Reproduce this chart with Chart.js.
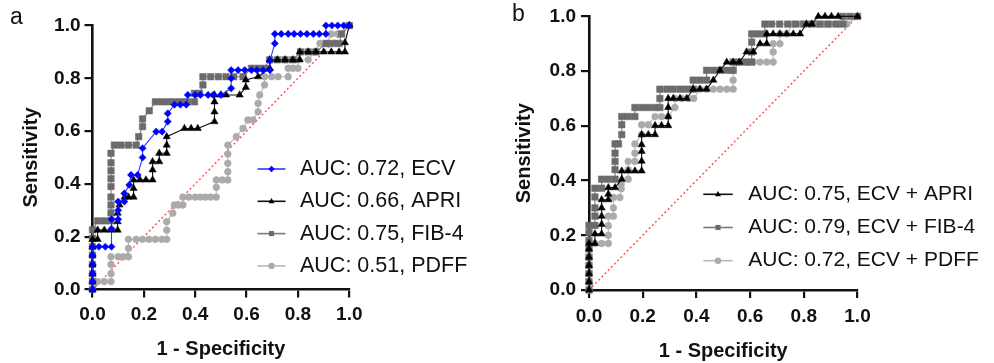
<!DOCTYPE html>
<html>
<head>
<meta charset="utf-8">
<script src="https://cdn.jsdelivr.net/npm/chart.js@4.4.0/dist/chart.umd.min.js"></script>
<style>
  body { margin: 0; background: #fff; width: 994px; height: 363px; overflow: hidden; position: relative; font-family: 'Liberation Sans', Arial, sans-serif; }
  .wrap { position: absolute; top: 0; width: 497px; height: 363px; }
  .tag { position: absolute; font-size: 23px; color: #111; line-height: 1.15; }
</style>
</head>
<body>
<div class="wrap" style="left:0"><canvas id="chartA" width="497" height="363"></canvas></div>
<div class="wrap" style="left:497px"><canvas id="chartB" width="497" height="363"></canvas></div>
<div class="tag" style="left:10px;top:3px">a</div>
<div class="tag" style="left:512px;top:0px">b</div>

<script>
// ---- data: [1 - specificity, sensitivity] ----
const axisTicks = [0, 0.2, 0.4, 0.6, 0.8, 1.0];
const diagonal = [[0, 0], [1, 1]];

// panel a
const aLabels = ['AUC: 0.72, ECV', 'AUC: 0.66, APRI', 'AUC: 0.75, FIB-4', 'AUC: 0.51, PDFF'];
const aEcv = [[0,0],[0,.03],[0,.06],[0,.095],[0,.13],[0,.162],[.025,.162],[.05,.162],[.074,.162],[.074,.23],[.074,.266],
  [.1,.266],[.1,.30],[.1,.333],[.124,.333],[.124,.364],[.143,.396],[.15,.434],[.176,.434],[.195,.50],[.195,.535],
  [.248,.598],[.271,.598],[.293,.636],[.293,.667],[.319,.70],[.342,.70],[.365,.70],[.371,.737],[.40,.737],[.42,.737],
  [.45,.737],[.47,.737],[.50,.737],[.54,.762],[.54,.80],[.54,.831],[.567,.831],[.593,.831],[.619,.831],[.64,.831],
  [.664,.831],[.691,.831],[.691,.867],[.71,.932],[.71,.968],[.735,.968],[.762,.968],[.785,.968],[.81,.968],[.835,.968],
  [.86,.968],[.883,.968],[.909,.968],[.909,1],[.932,1],[.955,1],[.978,1],[1,1]];
const aApri = [[0,0],[0,.03],[0,.06],[0,.095],[0,.13],[0,.162],[0,.19],[.02,.19],[.02,.225],[.046,.225],[.072,.225],
  [.098,.225],[.098,.257],[.098,.289],[.105,.32],[.125,.35],[.14,.35],[.16,.35],[.16,.383],[.16,.415],[.185,.415],
  [.208,.415],[.234,.415],[.234,.453],[.234,.484],[.26,.484],[.26,.516],[.289,.516],[.289,.547],[.289,.579],[.358,.61],
  [.384,.61],[.41,.61],[.475,.636],[.475,.673],[.475,.711],[.475,.737],[.50,.737],[.52,.737],[.573,.737],[.597,.766],
  [.597,.794],[.645,.806],[.69,.838],[.69,.87],[.72,.87],[.75,.87],[.78,.87],[.807,.87],[.807,.90],[.84,.90],[.87,.90],
  [.90,.90],[.93,.90],[.96,.90],[.983,.90],[.983,.935],[1,1]];
const aFib4 = [[0,0],[0,.03],[0,.06],[0,.095],[0,.13],[0,.162],[0,.194],[0,.226],[.02,.26],[.046,.26],[.072,.26],
  [.072,.29],[.072,.32],[.072,.35],[.072,.39],[.072,.42],[.072,.45],[.072,.48],[.072,.516],[.085,.547],[.111,.547],
  [.14,.547],[.17,.547],[.18,.579],[.195,.617],[.195,.646],[.221,.677],[.245,.711],[.27,.711],[.295,.711],[.32,.711],
  [.345,.711],[.37,.711],[.397,.711],[.397,.743],[.417,.743],[.43,.775],[.43,.806],[.46,.806],[.49,.806],[.52,.806],
  [.55,.806],[.586,.806],[.619,.838],[.645,.838],[.67,.838],[.69,.87],[.72,.87],[.75,.87],[.78,.87],[.81,.90],[.84,.90],
  [.87,.90],[.91,.932],[.935,.932],[.96,.932],[.97,.968],[1,1]];
const aPdff = [[0,0],[.02,.03],[.046,.03],[.072,.03],[.072,.06],[.072,.095],[.072,.124],[.1,.124],[.12,.124],[.14,.124],
  [.14,.156],[.14,.19],[.17,.19],[.195,.19],[.22,.19],[.245,.19],[.27,.19],[.289,.19],[.289,.225],[.289,.257],[.3125,.289],
  [.319,.32],[.335,.32],[.352,.32],[.352,.35],[.375,.35],[.40,.35],[.42,.35],[.44,.35],[.46,.35],[.482,.35],[.482,.387],
  [.482,.415],[.505,.415],[.527,.415],[.527,.446],[.527,.478],[.527,.513],[.527,.547],[.56,.579],[.586,.61],[.605,.642],
  [.625,.642],[.645,.673],[.645,.705],[.651,.737],[.67,.775],[.67,.806],[.697,.806],[.723,.806],[.762,.806],[.762,.838],
  [.78,.838],[.80,.838],[.80,.87],[.84,.87],[.865,.90],[.886,.932],[.912,.932],[.93,.968],[.955,.968],[1,1]];

// panel b
const bLabels = ['AUC: 0.75, ECV + APRI', 'AUC: 0.79, ECV + FIB-4', 'AUC: 0.72, ECV + PDFF'];
const bApri = [[0,0],[0,.03],[0,.06],[0,.09],[0,.12],[0,.15],[0,.17],[.022,.17],[.022,.205],[.047,.205],[.047,.24],
  [.047,.27],[.047,.30],[.047,.33],[.072,.33],[.072,.35],[.072,.374],[.097,.374],[.122,.405],[.122,.435],[.146,.435],
  [.171,.435],[.196,.435],[.196,.471],[.196,.507],[.196,.531],[.196,.568],[.221,.568],[.246,.568],[.246,.601],[.27,.601],
  [.295,.601],[.295,.634],[.295,.667],[.295,.70],[.314,.70],[.339,.70],[.364,.70],[.388,.734],[.413,.734],[.438,.734],
  [.463,.767],[.488,.803],[.513,.833],[.537,.833],[.56,.833],[.587,.87],[.612,.87],[.637,.90],[.662,.90],[.662,.936],
  [.686,.936],[.711,.936],[.736,.936],[.761,.936],[.786,.936],[.81,.972],[.83,.972],[.854,1],[.879,1],[.903,1],[.928,1],[1,1]];
const bFib4 = [[0,0],[0,.03],[0,.06],[0,.09],[0,.12],[0,.15],[0,.18],[0,.21],[0,.236],[.022,.236],[.022,.27],[.022,.30],
  [.022,.34],[.022,.372],[.047,.372],[.047,.405],[.072,.405],[.097,.405],[.097,.44],[.097,.47],[.097,.50],[.097,.534],
  [.11,.534],[.122,.568],[.122,.604],[.122,.634],[.146,.634],[.171,.634],[.171,.667],[.196,.667],[.22,.667],[.245,.667],
  [.264,.667],[.264,.70],[.264,.734],[.29,.734],[.314,.734],[.34,.734],[.364,.734],[.388,.734],[.388,.767],[.413,.767],
  [.438,.767],[.438,.803],[.463,.803],[.488,.803],[.513,.803],[.537,.803],[.537,.833],[.56,.833],[.585,.833],[.606,.833],
  [.606,.87],[.606,.906],[.606,.936],[.63,.936],[.655,.936],[.655,.972],[.68,.972],[.71,.972],[.74,.972],[.77,.972],
  [.80,.972],[.83,.972],[.86,.972],[.89,.972],[.92,.972],[.946,.972],[.946,1],[.973,1],[1,1]];
const bPdff = [[0,0],[0,.03],[0,.06],[0,.09],[0,.12],[0,.15],[0,.17],[.022,.17],[.047,.17],[.072,.17],[.072,.2],[.072,.235],
  [.072,.27],[.091,.27],[.091,.30],[.091,.338],[.115,.338],[.12,.37],[.12,.387],[.146,.405],[.146,.44],[.146,.47],
  [.171,.47],[.171,.50],[.171,.534],[.196,.568],[.196,.604],[.221,.604],[.246,.634],[.27,.634],[.295,.634],[.32,.667],
  [.32,.70],[.345,.70],[.37,.70],[.39,.70],[.413,.734],[.438,.734],[.463,.734],[.488,.734],[.513,.734],[.537,.734],
  [.537,.767],[.537,.803],[.56,.833],[.587,.833],[.612,.833],[.637,.833],[.662,.833],[.686,.833],[.686,.87],[.686,.90],
  [.711,.90],[.711,.936],[.736,.936],[.76,.972],[.79,.972],[.82,.972],[.85,.972],[.874,.972],[.898,.972],[.93,.972],
  [.96,.972],[1,1]];

const FONT = "'Liberation Sans', Arial, Helvetica, sans-serif";

function pts(arr) {
  return arr.map(p => ({ x: p[0], y: p[1] }));
}

function curve(label, arr, color, lineColor, style, r) {
  return {
    label: label,
    data: pts(arr),
    showLine: true,
    borderColor: lineColor,
    borderWidth: 1.1,
    backgroundColor: color,
    pointBackgroundColor: color,
    pointBorderColor: color,
    pointBorderWidth: 0.5,
    pointStyle: style,
    pointRadius: r,
    clip: false
  };
}

function diagSet() {
  return {
    label: '',
    data: pts(diagonal),
    showLine: true,
    borderColor: '#ff4d4d',
    borderWidth: 1.4,
    borderDash: [2, 2.5],
    pointRadius: 0,
    clip: false
  };
}

// small marker for the legend
function marker(ctx, style, x, y, r, color) {
  ctx.fillStyle = color;
  ctx.beginPath();
  if (style === 'triangle') {
    ctx.moveTo(x, y - r);
    ctx.lineTo(x + r * 0.95, y + r * 0.6);
    ctx.lineTo(x - r * 0.95, y + r * 0.6);
  } else if (style === 'rect') {
    ctx.rect(x - r * 0.8, y - r * 0.8, r * 1.6, r * 1.6);
  } else if (style === 'rectRot') {
    ctx.moveTo(x, y - r); ctx.lineTo(x + r, y); ctx.lineTo(x, y + r); ctx.lineTo(x - r, y);
  } else {
    ctx.arc(x, y, r, 0, Math.PI * 2);
  }
  ctx.closePath();
  ctx.fill();
}

const insideLegend = {
  id: 'insideLegend',
  afterDraw(chart, args, o) {
    const ctx = chart.ctx;
    ctx.save();
    ctx.font = o.font;
    ctx.textBaseline = 'middle';
    chart.data.datasets.forEach((ds, i) => {
      if (!ds.label) return;
      const y = o.y + i * o.gap;
      ctx.strokeStyle = ds.borderColor;
      ctx.lineWidth = 1.6;
      ctx.beginPath();
      ctx.moveTo(o.x, y);
      ctx.lineTo(o.x + o.len, y);
      ctx.stroke();
      marker(ctx, ds.pointStyle, o.x + o.len / 2, y, 3.2, ds.pointBackgroundColor);
      ctx.fillStyle = '#111';
      ctx.fillText(ds.label, o.textX, y);
    });
    ctx.restore();
  }
};

function axis(dir, cfg) {
  const s = {
    type: 'linear',
    min: 0,
    max: 1,
    afterBuildTicks: sc => { sc.ticks = axisTicks.map(v => ({ value: v })); },
    ticks: {
      callback: v => Number(v).toFixed(1),
      font: { family: FONT, size: 19, weight: 'bold' },
      color: '#111',
      padding: cfg.tickPad,
      maxRotation: 0
    },
    grid: { drawOnChartArea: false, drawTicks: true, tickLength: 8, lineWidth: 2.2, color: '#111' },
    border: { display: true, color: '#111', width: 2.6 },
    title: {
      display: true,
      text: dir === 'x' ? '1 - Specificity' : 'Sensitivity',
      font: { family: FONT, size: 20, weight: 'bold' },
      color: '#111',
      padding: cfg.titlePad
    }
  };
  if (dir === 'x') s.afterFit = sc => { sc.height = cfg.size; };
  else s.afterFit = sc => { sc.width = cfg.size; };
  return s;
}

function makeChart(id, datasets, box) {
  return new Chart(document.getElementById(id), {
    type: 'scatter',
    data: { datasets: datasets },
    options: {
      responsive: false,
      animation: false,
      events: [],
      layout: { padding: box.pad },
      plugins: {
        legend: { display: false },
        tooltip: { enabled: false },
        insideLegend: box.legend
      },
      scales: {
        x: axis('x', box.x),
        y: axis('y', box.y)
      }
    },
    plugins: [insideLegend]
  });
}

const BLUE = '#0000ff', BLACK = '#000000', DARK = '#6b6b6b', LIGHT = '#ababab';

makeChart('chartA', [
  curve(aLabels[0], aEcv, BLUE, '#2a3cff', 'rectRot', 3.6),
  curve(aLabels[1], aApri, BLACK, '#111111', 'triangle', 4.2),
  curve(aLabels[2], aFib4, DARK, '#7a7a7a', 'rect', 4.6),
  curve(aLabels[3], aPdff, LIGHT, '#b8b8b8', 'circle', 3.4),
  diagSet()
], {
  pad: { left: 0, right: 147.7, top: 25.5, bottom: 0 },
  x: { size: 73.5, tickPad: 6, titlePad: { top: 0, bottom: 2 } },
  y: { size: 92.5, tickPad: 4, titlePad: { top: 19, bottom: 0 } },
  legend: { font: '21.5px ' + FONT, x: 257.5, len: 28, textX: 300, y: 169, gap: 32.3 }
});

makeChart('chartB', [
  curve(bLabels[0], bApri, BLACK, '#111111', 'triangle', 4.2),
  curve(bLabels[1], bFib4, DARK, '#7a7a7a', 'rect', 4.6),
  curve(bLabels[2], bPdff, LIGHT, '#b8b8b8', 'circle', 3.4),
  diagSet()
], {
  pad: { left: 0, right: 136.5, top: 14, bottom: 0 },
  x: { size: 73, tickPad: 7.5, titlePad: { top: 0, bottom: 0 } },
  y: { size: 92, tickPad: 5, titlePad: { top: 15, bottom: 0 } },
  legend: { font: '21px ' + FONT, x: 206.3, len: 29.4, textX: 251.3, y: 194.3, gap: 33.2 }
});
</script>
</body>
</html>
